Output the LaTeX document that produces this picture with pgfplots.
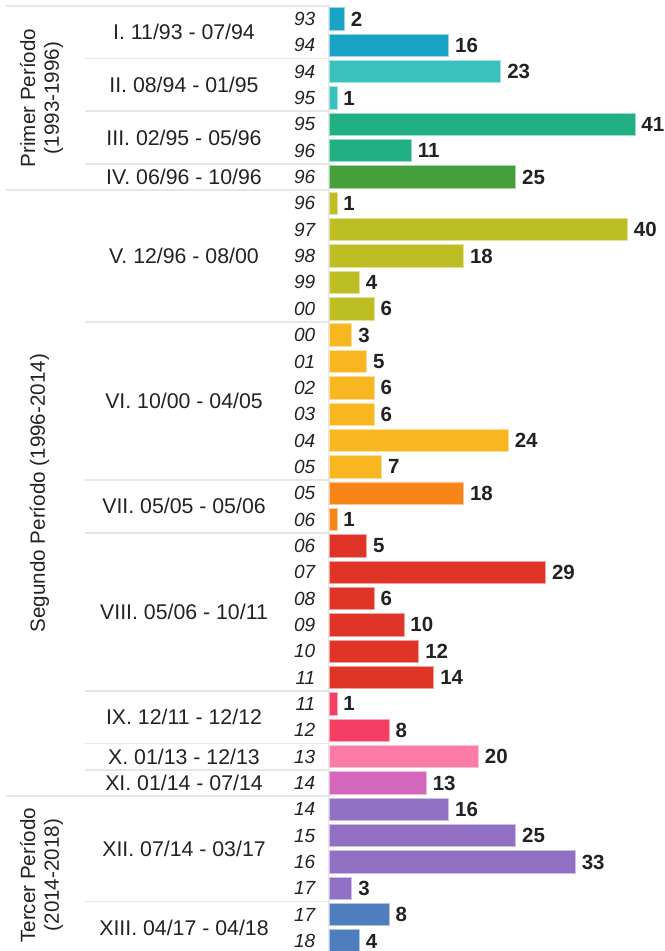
\documentclass[border=0pt]{standalone}
\usepackage{fontspec}
\setmainfont{Liberation Sans}
\usepackage{pgfplots}
\pgfplotsset{compat=1.18}

\definecolor{cI}{HTML}{1BA3C6}
\definecolor{cII}{HTML}{38C1BD}
\definecolor{cIII}{HTML}{21AF84}
\definecolor{cIV}{HTML}{45A03C}
\definecolor{cV}{HTML}{BDBD24}
\definecolor{cVI}{HTML}{F8B620}
\definecolor{cVII}{HTML}{F88517}
\definecolor{cVIII}{HTML}{DF3427}
\definecolor{cIX}{HTML}{F43E64}
\definecolor{cX}{HTML}{FC7BA6}
\definecolor{cXI}{HTML}{D466BD}
\definecolor{cXII}{HTML}{916FC2}
\definecolor{cXIII}{HTML}{4E7EBE}
\definecolor{sepgray}{HTML}{E6E6E6}
\definecolor{txt}{HTML}{222222}

\pgfplotsset{
  grp/.style={xbar, bar width=0.85, bar shift=0pt, fill=#1, draw=#1!45!white, line width=0.9bp},
}
\tikzset{
  sep/.style={draw=sepgray, line width=1.6bp},
  grplab/.style={font=\fontsize{21.3bp}{24bp}\selectfont, text=txt, inner sep=0pt, anchor=base},
  perlab/.style={font=\fontsize{20.6bp}{24bp}\selectfont, text=txt, inner sep=0pt, anchor=base, rotate=90},
}

\begin{document}
\begin{tikzpicture}
\useasboundingbox (0,0) rectangle (665bp,951bp);
\clip (0,0) rectangle (665bp,951bp);
\begin{axis}[
    at={(0,0)}, anchor=south west,
    width=665bp, height=951bp, scale only axis,
    xmin=-44.228, xmax=45.034,
    ymin=0.2787, ymax=36.379,
    y dir=reverse,
    axis lines=left,
    axis line style={draw=none, opacity=0},
    xtick=\empty,
    ytick={1,...,36},
    yticklabels={93,94,94,95,95,96,96,96,97,98,99,00,00,01,02,03,04,05,05,06,06,07,08,09,10,11,11,12,13,14,14,15,16,17,17,18},
    major tick length=0pt,
    yticklabel style={anchor=east, inner sep=0pt, xshift=315.5bp, font=\fontsize{19bp}{20bp}\selectfont\itshape, text=txt},
    nodes near coords,
    point meta=x,
    /pgf/number format/assume math mode=true,
    every node near coord/.append style={anchor=west, inner sep=0pt, xshift=6bp, font=\fontsize{20.5bp}{21bp}\selectfont\bfseries, text=txt},
]

% separators: periods (long) and subgroups (short)
\draw[sep] (axis cs:-43.42,0.5) -- (axis cs:0,0.5);
\draw[sep] (axis cs:-43.42,7.5) -- (axis cs:0,7.5);
\draw[sep] (axis cs:-43.42,30.5) -- (axis cs:0,30.5);
\draw[sep] (axis cs:-32.82,2.5) -- (axis cs:0,2.5);
\draw[sep] (axis cs:-32.82,4.5) -- (axis cs:0,4.5);
\draw[sep] (axis cs:-32.82,6.5) -- (axis cs:0,6.5);
\draw[sep] (axis cs:-32.82,12.5) -- (axis cs:0,12.5);
\draw[sep] (axis cs:-32.82,18.5) -- (axis cs:0,18.5);
\draw[sep] (axis cs:-32.82,20.5) -- (axis cs:0,20.5);
\draw[sep] (axis cs:-32.82,26.5) -- (axis cs:0,26.5);
\draw[sep] (axis cs:-32.82,28.5) -- (axis cs:0,28.5);
\draw[sep] (axis cs:-32.82,29.5) -- (axis cs:0,29.5);
\draw[sep] (axis cs:-32.82,34.5) -- (axis cs:0,34.5);
\draw[draw=sepgray, line width=1bp] (axis cs:-0.1,0.5) -- (axis cs:-0.1,36.6);

% bars, one plot per subperiod
\addplot[grp=cI] coordinates {(2,1) (16,2)};
\addplot[grp=cII] coordinates {(23,3) (1,4)};
\addplot[grp=cIII] coordinates {(41,5) (11,6)};
\addplot[grp=cIV] coordinates {(25,7)};
\addplot[grp=cV] coordinates {(1,8) (40,9) (18,10) (4,11) (6,12)};
\addplot[grp=cVI] coordinates {(3,13) (5,14) (6,15) (6,16) (24,17) (7,18)};
\addplot[grp=cVII] coordinates {(18,19) (1,20)};
\addplot[grp=cVIII] coordinates {(5,21) (29,22) (6,23) (10,24) (12,25) (14,26)};
\addplot[grp=cIX] coordinates {(1,27) (8,28)};
\addplot[grp=cX] coordinates {(20,29)};
\addplot[grp=cXI] coordinates {(13,30)};
\addplot[grp=cXII] coordinates {(16,31) (25,32) (33,33) (3,34)};
\addplot[grp=cXIII] coordinates {(8,35) (4,36)};

% subperiod labels
\node[grplab] at (axis cs:-19.53,1.785) {I. 11/93 - 07/94};
\node[grplab] at (axis cs:-19.53,3.785) {II. 08/94 - 01/95};
\node[grplab] at (axis cs:-19.53,5.785) {III. 02/95 - 05/96};
\node[grplab] at (axis cs:-19.53,7.285) {IV. 06/96 - 10/96};
\node[grplab] at (axis cs:-19.53,10.285) {V. 12/96 - 08/00};
\node[grplab] at (axis cs:-19.53,15.785) {VI. 10/00 - 04/05};
\node[grplab] at (axis cs:-19.53,19.785) {VII. 05/05 - 05/06};
\node[grplab] at (axis cs:-19.53,23.785) {VIII. 05/06 - 10/11};
\node[grplab] at (axis cs:-19.53,27.785) {IX. 12/11 - 12/12};
\node[grplab] at (axis cs:-19.53,29.285) {X. 01/13 - 12/13};
\node[grplab] at (axis cs:-19.53,30.285) {XI. 01/14 - 07/14};
\node[grplab] at (axis cs:-19.53,32.785) {XII. 07/14 - 03/17};
\node[grplab] at (axis cs:-19.53,35.785) {XIII. 04/17 - 04/18};

% period labels
\node[perlab] at (axis cs:-39.53,4) {Primer Período};
\node[perlab] at (axis cs:-36.31,4) {(1993-1996)};
\node[perlab] at (axis cs:-38.19,19) {Segundo Período (1996-2014)};
\node[perlab] at (axis cs:-39.53,33.5) {Tercer Período};
\node[perlab] at (axis cs:-36.31,33.5) {(2014-2018)};
\end{axis}
\end{tikzpicture}
\end{document}
